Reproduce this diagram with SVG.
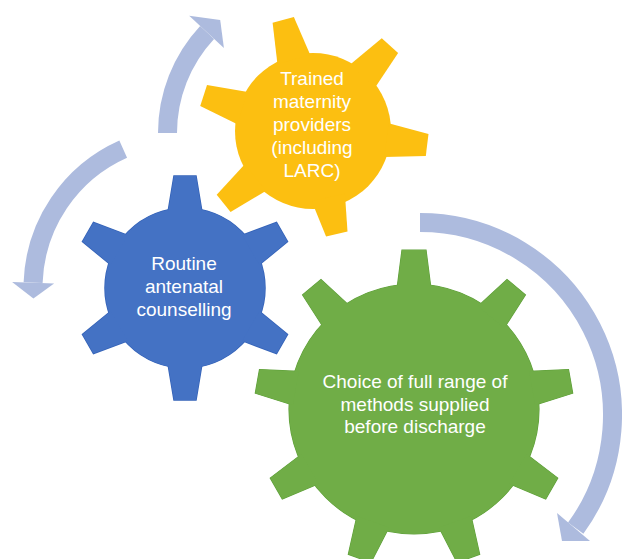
<svg xmlns="http://www.w3.org/2000/svg" width="622" height="559" viewBox="0 0 622 559">
<defs>
<style>
.arc{fill:none;stroke:#ADBBDE;stroke-width:19}
.head{fill:#ADBBDE}
.lbl{font-family:"Liberation Sans",Arial,sans-serif;font-size:19px;fill:#ffffff;text-anchor:middle}
.edgeB{fill:#3563B8;stroke:#3563B8;stroke-width:1.5}
.edgeG{fill:#5FA03A;stroke:#5FA03A;stroke-width:1.2}
</style>
<polygon id="toothY" points="-17,-74 -11,-115 11,-115 17,-74"/>
<polygon id="toothB" points="-17,-76 -11,-112 11,-112 17,-76"/>
<polygon id="toothG" points="-17,-120 -12,-159 12,-159 17,-120"/>
<g id="shapeB">
<circle r="80"/>
<use href="#toothB" transform="rotate(0)"/>
<use href="#toothB" transform="rotate(60)"/>
<use href="#toothB" transform="rotate(120)"/>
<use href="#toothB" transform="rotate(180)"/>
<use href="#toothB" transform="rotate(240)"/>
<use href="#toothB" transform="rotate(300)"/>
</g>
<g id="shapeG">
<circle r="125"/>
<use href="#toothG" transform="rotate(0)"/>
<use href="#toothG" transform="rotate(40)"/>
<use href="#toothG" transform="rotate(80)"/>
<use href="#toothG" transform="rotate(120)"/>
<use href="#toothG" transform="rotate(160)"/>
<use href="#toothG" transform="rotate(200)"/>
<use href="#toothG" transform="rotate(240)"/>
<use href="#toothG" transform="rotate(280)"/>
<use href="#toothG" transform="rotate(320)"/>
</g>
</defs>
<rect width="622" height="559" fill="#ffffff"/>
<g id="connectors">
<path class="arc" d="M167.5,133 A147.5,147.5 0 0 1 207.1,32.4"/>
<polygon class="head" points="189.2,15.7 220.2,20 223.9,48.1"/>
<path class="arc" d="M123.2,149.1 A152,152 0 0 0 33.1,282.7"/>
<polygon class="head" points="12.1,282 33.4,298.6 54.1,283.4"/>
<path class="arc" d="M420,222.5 A192.5,192.5 0 0 1 575.7,528.2"/>
<polygon class="head" points="557,513 562,541 590,541"/>
</g>
<g id="gear-yellow" fill="#FCBF11">
<g transform="translate(313,131)">
<circle r="78"/>
<use href="#toothY" transform="rotate(-15)"/>
<use href="#toothY" transform="rotate(42)"/>
<use href="#toothY" transform="rotate(97)"/>
<use href="#toothY" transform="rotate(167) scale(1,0.92)"/>
<use href="#toothY" transform="rotate(231)"/>
<use href="#toothY" transform="rotate(288)"/>
</g>
<text class="lbl" x="312" y="85">Trained</text>
<text class="lbl" x="312" y="108">maternity</text>
<text class="lbl" x="312" y="131">providers</text>
<text class="lbl" x="312" y="154">(including</text>
<text class="lbl" x="312" y="177">LARC)</text>
</g>
<g id="gear-blue">
<use href="#shapeB" class="edgeB" transform="translate(185,288)"/>
<use href="#shapeB" fill="#4472C4" transform="translate(185,288)"/>
<text class="lbl" x="184" y="270">Routine</text>
<text class="lbl" x="184" y="293">antenatal</text>
<text class="lbl" x="184" y="316">counselling</text>
</g>
<g id="gear-green">
<use href="#shapeG" class="edgeG" transform="translate(414,409)"/>
<use href="#shapeG" fill="#70AD47" transform="translate(414,409)"/>
<text class="lbl" x="415" y="388">Choice of full range of</text>
<text class="lbl" x="415" y="410.5">methods supplied</text>
<text class="lbl" x="415" y="433">before discharge</text>
</g>
</svg>
